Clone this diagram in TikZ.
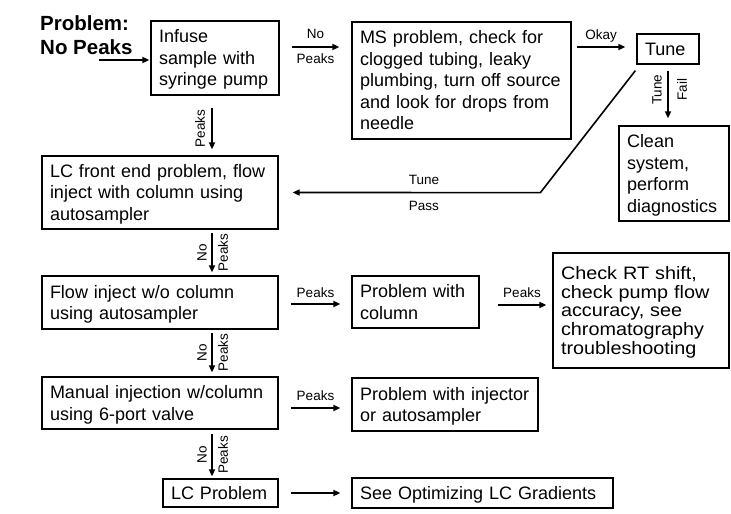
\documentclass[tikz,border=0pt]{standalone}
\usepackage{fontspec}
\setmainfont{Liberation Sans}
\newfontfamily\widefont[FakeStretch=1.1]{Liberation Sans}
\usetikzlibrary{arrows.meta,calc}
\begin{document}
\begin{tikzpicture}[x=1pt,y=-1pt,
  box/.style={draw,line width=1.2pt,inner xsep=8pt,inner ysep=0pt,align=left,font=\fontsize{18}{21.5}\selectfont,
    execute at begin node={\rule{0pt}{16.3pt}},
    execute at end node={\rule[-3.8pt]{0pt}{0pt}}},
  arr/.style={line width=1.6pt,-{Triangle[length=7pt,width=6pt]}},
  lbl/.style={font=\fontsize{13.5}{15}\selectfont,inner sep=0pt},
]
\useasboundingbox (0,0) rectangle (731,514);
% title
\node[anchor=west,inner sep=0pt,align=left,font=\bfseries\fontsize{20.5}{24}\selectfont] (title) at (40,35) {Problem:\\No Peaks};
% boxes
\node[box,text width=112pt,minimum height=74pt] (infuse) at (215,58) {Infuse\\sample with\\syringe pump};
\node[box,text width=203pt,minimum height=117pt] (ms) at (461.5,80.5) {MS problem, check for\\clogged tubing, leaky\\plumbing, turn off source\\and look for drops from\\needle};
\node[box,text width=46pt,minimum height=30pt] (tune) at (668,49) {Tune};
\node[box,text width=94pt,minimum height=95pt] (clean) at (674,173.5) {Clean\\system,\\perform\\diagnostics};
\node[box,text width=220pt,minimum height=73pt] (lcfront) at (160,192.5) {LC front end problem, flow\\inject with column using\\autosampler};
\node[box,text width=220pt,minimum height=53pt] (flow) at (160,302.5) {Flow inject w/o column\\using autosampler};
\node[box,text width=111pt,minimum height=52pt] (col) at (415.5,302) {Problem with\\column};
\node[box,text width=160pt,minimum height=115pt,font=\widefont\fontsize{18}{18.75}\selectfont] (check) at (641,310.5) {Check RT shift,\\check pump flow\\accuracy, see\\chromatography\\troubleshooting};
\node[box,text width=220pt,minimum height=52pt] (manual) at (160,403) {Manual injection w/column\\using 6-port valve};
\node[box,text width=170pt,minimum height=53pt] (inj) at (445,404.5) {Problem with injector\\or autosampler};
\node[box,text width=99pt,minimum height=28pt] (lcprob) at (220.5,493) {LC Problem};
\node[box,text width=245pt,minimum height=30pt] (see) at (482.5,493) {See Optimizing LC Gradients};
% connectors
\coordinate (start) at (99,60);
\draw[arr] (start) -- ($(infuse.west)+(-1,2)$);
\draw[arr] ($(infuse.east)+(12,-11)$) -- ($(ms.west)+(-12,-33.5)$)
  node[lbl,midway,yshift=13pt] {No} node[lbl,midway,yshift=-12pt] {Peaks};
\draw[arr] ($(infuse.south)+(-3,12)$) -- ($(lcfront.north)+(52,-6)$)
  node[lbl,midway,rotate=90,yshift=12pt] {Peaks};
\draw[arr] ($(ms.east)+(5,-33.5)$) -- ($(tune.west)+(-11,-2)$)
  node[lbl,midway,yshift=11pt] {Okay};
\draw[arr] ($(tune.south)+(0,6)$) -- ($(clean.north)+(-6,-7)$)
  node[lbl,pos=0.4,rotate=90,yshift=11pt] {Tune} node[lbl,pos=0.4,rotate=90,yshift=-14pt] {Fail};
\draw[arr] ($(tune.south west)+(-1,6)$) -- ++(-95,122) -- ($(lcfront.east)+(14,0)$)
  node[lbl,pos=0.47,yshift=13pt] {Tune} node[lbl,pos=0.47,yshift=-13pt] {Pass};
\draw[arr] ($(lcfront.south)+(52,3)$) -- ($(flow.north)+(52,-3)$)
  node[lbl,midway,rotate=90,yshift=10pt] {No} node[lbl,midway,rotate=90,yshift=-11pt] {Peaks};
\draw[arr] ($(flow.east)+(12,1.5)$) -- ($(col.west)+(-11,2)$)
  node[lbl,midway,yshift=11pt] {Peaks};
\draw[arr] ($(col.east)+(18,3)$) -- ($(check.west)+(-6,-5.5)$)
  node[lbl,midway,yshift=12pt] {Peaks};
\draw[arr] ($(flow.south)+(52,3)$) -- ($(manual.north)+(52,-4)$)
  node[lbl,midway,rotate=90,yshift=10pt] {No} node[lbl,midway,rotate=90,yshift=-11pt] {Peaks};
\draw[arr] ($(manual.east)+(12,5)$) -- ($(inj.west)+(-11,3.5)$)
  node[lbl,midway,yshift=12pt] {Peaks};
\draw[arr] ($(manual.south)+(52,4)$) -- ($(lcprob.north)+(-8.5,-2)$)
  node[lbl,midway,rotate=90,yshift=10pt] {No} node[lbl,midway,rotate=90,yshift=-11pt] {Peaks};
\draw[arr] ($(lcprob.east)+(12,0)$) -- ($(see.west)+(-11,0)$);
\end{tikzpicture}
\end{document}
